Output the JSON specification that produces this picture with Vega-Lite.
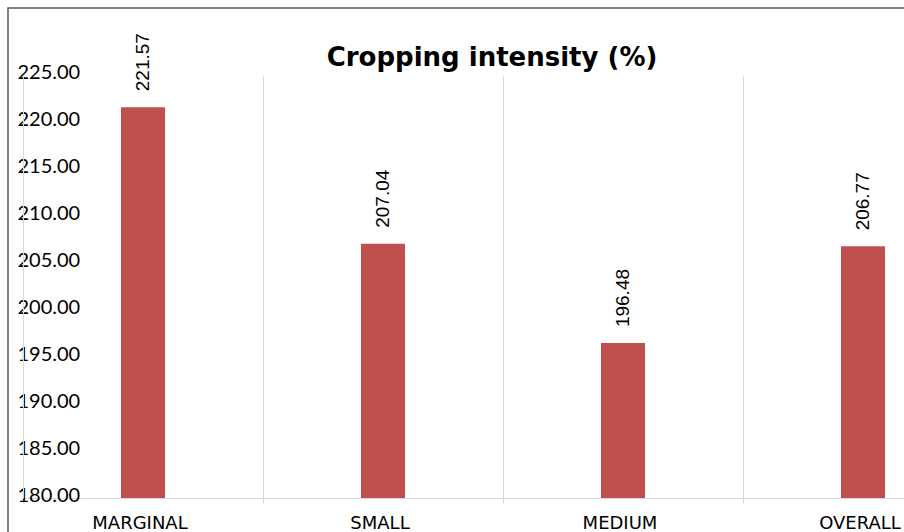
{
  "$schema": "https://vega.github.io/schema/vega-lite/v6.json",
  "width": 930,
  "height": 560,
  "autosize": {"type": "none"},
  "padding": {"left": 8, "top": 8, "right": 0, "bottom": 0},
  "background": "white",
  "config": {"view": {"stroke": "#595959", "strokeWidth": 1.5}},
  "title": {
    "text": "Cropping intensity (%)",
    "font": "DejaVu Sans",
    "fontSize": 26,
    "fontWeight": "bold",
    "color": "#000000",
    "anchor": "middle",
    "frame": "group",
    "dx": 19,
    "offset": -84,
    "baseline": "alphabetic"
  },
  "data": {
    "values": [
      {"category": "MARGINAL", "value": 221.57},
      {"category": "SMALL", "value": 207.04},
      {"category": "MEDIUM", "value": 196.48},
      {"category": "OVERALL", "value": 206.77}
    ]
  },
  "resolve": {"axis": {"x": "independent"}},
  "layer": [
    {
      "mark": {"type": "bar", "color": "#C0504D", "width": 44},
      "encoding": {
        "x": {
          "field": "category",
          "type": "nominal",
          "sort": null,
          "scale": {"paddingInner": 0, "paddingOuter": 0, "range": [15, 975]},
          "axis": {
            "orient": "bottom",
            "offset": -70,
            "title": null,
            "grid": false,
            "ticks": false,
            "domainColor": "#D9D9D9",
            "labelAngle": 0,
            "labelFont": "DejaVu Sans",
            "labelFontSize": 18,
            "labelColor": "#000000",
            "labelPadding": 16,
            "labelOffset": -3
          }
        },
        "y": {
          "field": "value",
          "type": "quantitative",
          "scale": {"domain": [180, 225], "zero": false, "range": [490, 67]},
          "axis": {
            "orient": "left",
            "offset": -15,
            "title": null,
            "values": [180, 185, 190, 195, 200, 205, 210, 215, 220, 225],
            "format": ".2f",
            "grid": false,
            "ticks": false,
            "domainColor": "#D9D9D9",
            "labelAlign": "left",
            "labelBaseline": "middle",
            "labelPadding": 6,
            "labelFlush": false,
            "labelOverlap": false,
            "labelBound": false,
            "labelFont": "Lato",
            "labelFontSize": 20,
            "labelColor": "#000000",
            "labelOffset": -3
          }
        },
        "y2": {"datum": 180}
      }
    },
    {
      "mark": {
        "type": "text",
        "angle": 270,
        "align": "left",
        "baseline": "middle",
        "dx": 16,
        "font": "Liberation Sans",
        "fontSize": 19,
        "color": "#000000"
      },
      "encoding": {
        "x": {
          "field": "category",
          "type": "nominal",
          "sort": null,
          "axis": {
            "orient": "top",
            "offset": -67,
            "title": null,
            "tickBand": "extent",
            "domain": false,
            "labels": false,
            "grid": false,
            "ticks": true,
            "tickSize": -428,
            "tickColor": "#D9D9D9"
          }
        },
        "y": {"field": "value", "type": "quantitative"},
        "text": {"field": "value", "type": "quantitative", "format": ".2f"}
      }
    }
  ]
}
